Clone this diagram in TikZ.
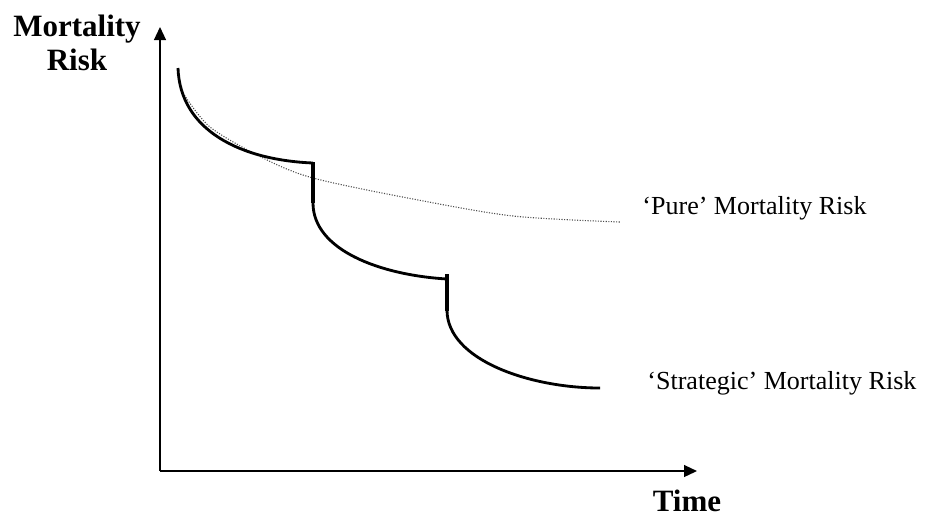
\documentclass[tikz,border=0pt]{standalone}
\usepackage{fontspec}
\setmainfont{Liberation Serif}
\usetikzlibrary{arrows.meta}
\begin{document}
\begin{tikzpicture}[x=0.0162cm,y=-0.0162cm]
  \tikzstyle{every node}+=[inner sep=0pt]
  \tikzstyle{axis}=[black, line width=0.7pt, -{Triangle[length=6pt,width=5.5pt]}]
  \tikzstyle{strategic}=[black, line width=1.3pt]
  \tikzstyle{jump}=[black, line width=1.7pt]
  \tikzstyle{pure}=[black!70, line width=0.5pt, dash pattern=on 0.5pt off 0.7pt]
  \tikzstyle{bigbold}=[font=\bfseries\fontsize{14.3}{16}\selectfont]
  \tikzstyle{curvelabel}=[anchor=west, font=\fontsize{12}{14}\selectfont]
  \useasboundingbox (0,0) rectangle (928,517);
  \coordinate (origin) at (160,471);
  \coordinate (ytop) at (160,27);
  \coordinate (xend) at (697,471);
  \draw [axis] (origin) -- (ytop);
  \draw [axis] (origin) -- (xend);
  \node (ylabel) [bigbold, align=center] at (77,43) {Mortality\\Risk};
  \node (xlabel) [bigbold] at (687,501) {Time};
  \draw [pure] plot [smooth] coordinates {(183,93) (210,127) (263,158) (313,178) (413,199) (513,216) (620,222)};
  \draw [strategic] (178,68) .. controls (180,130) and (240,160) .. (313,163);
  \draw [jump] (313,162) -- (313,203);
  \draw [strategic] (313,203) .. controls (313,250) and (380,275) .. (447,279);
  \draw [jump] (447,274) -- (447,311);
  \draw [strategic] (447,310) .. controls (447,360) and (530,388) .. (600,388);
  \node (pure label) [curvelabel] at (642,208) {`Pure' Mortality Risk};
  \node (strategic label) [curvelabel] at (647,383) {`Strategic' Mortality Risk};
\end{tikzpicture}
\end{document}
